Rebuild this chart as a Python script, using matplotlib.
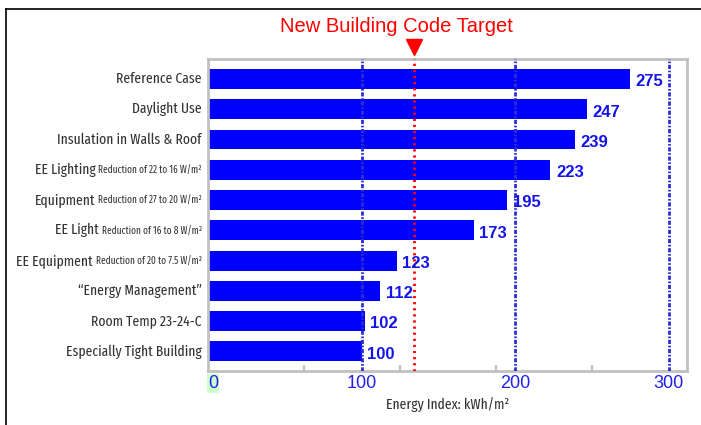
import numpy as np
import matplotlib
matplotlib.use("Agg")
import matplotlib.pyplot as plt
from matplotlib import font_manager as fm
from matplotlib.lines import Line2D
from matplotlib.offsetbox import TextArea, HPacker, AnnotationBbox

# datos
main_labels = ["Reference Case", "Daylight Use", "Insulation in Walls & Roof",
               "EE Lighting", "Equipment", "EE Light", "EE Equipment",
               "\u201cEnergy Management\u201d", "Room Temp 23-24-C",
               "Especially Tight Building"]
sub_labels = ["", "", "",
              "Reduction of 22 to 16 W/m\u00b2", "Reduction of 27 to 20 W/m\u00b2",
              "Reduction of 16 to 8 W/m\u00b2", "Reduction of 20 to 7.5 W/m\u00b2",
              "", "", ""]
values = [275, 247, 239, 223, 195, 173, 123, 112, 102, 100]
target = 134
grid_vals = [100, 200, 300]
tick_vals = [0, 100, 200, 300]
tick_labels = ["0", "100", "200", "300"]
minor_vals = [62.5, 125, 187.5, 250]

# fuente estrecha disponible
installed = {f.name for f in fm.fontManager.ttflist}
narrow_fam = next(f for f in ["Fira Sans Extra Condensed", "Roboto Condensed",
                              "Fira Sans Condensed", "Liberation Sans"] if f in installed)
NARROW = [narrow_fam, "DejaVu Sans"]
ARIAL = ["Liberation Sans", "DejaVu Sans"]
GRAY_TXT = "#333333"

fig = plt.figure(figsize=(7.01, 4.25), dpi=100)
renderer = fig.canvas.get_renderer()

# ajustar tamaño para que "Reference Case" mida ~85 px
t = fig.text(0, 0, "Reference Case", fontsize=10, family=NARROW)
scale = 85 / t.get_window_extent(renderer).width
t.remove()
big_fs = 10 * scale
small_fs = 0.68 * big_fs

ax = fig.add_axes([208 / 701, 1 - 371 / 425, (687 - 208) / 701, (371 - 59) / 425])

pos = np.arange(len(values))
ax.barh(pos, values, height=0.66, color="#0000ff", zorder=2)
ax.set_xlim(0, 312)
ax.set_ylim(9.65, -0.66)

# lineas de referencia
for g in grid_vals:
    ax.axvline(g, color="#2e2ed2", lw=2, ls=(0, (1.5, 0.6, 0.6, 0.6)), zorder=3)
ax.axvline(target, color="#ff0000", lw=2, ls=(0, (0.8, 1.4)), zorder=4)
ax.plot([target], [1.04], marker="v", ms=12, color="#ff0000",
        transform=ax.get_xaxis_transform(), clip_on=False)

# valores
for y, v in zip(pos, values):
    ax.annotate(str(v), xy=(v, y), xytext=(4, -2), textcoords="offset points",
                ha="left", va="center", fontsize=12, fontweight="bold",
                color="#1515e8", family=ARIAL, zorder=5)

# etiquetas del eje y
ax.set_yticks([])
for y, big, small in zip(pos, main_labels, sub_labels):
    kids = [TextArea(big, textprops=dict(fontsize=big_fs, color=GRAY_TXT, family=NARROW))]
    if small:
        kids.append(TextArea(small, textprops=dict(fontsize=small_fs, color=GRAY_TXT, family=NARROW)))
    box = HPacker(children=kids, align="baseline", pad=0, sep=2)
    ab = AnnotationBbox(box, xy=(0, y), xycoords=ax.get_yaxis_transform(),
                        xybox=(-4.5, 0), boxcoords="offset points",
                        box_alignment=(1, 0.5), frameon=False, annotation_clip=False)
    ax.add_artist(ab)

# eje x
ax.set_xticks(tick_vals)
ax.set_xticklabels(tick_labels, fontsize=13, color="#2020f0", family=ARIAL)
ax.get_xticklabels()[0].set_ha("left")
ax.get_xticklabels()[0].set_bbox(dict(facecolor="#ccffcc", edgecolor="none", pad=0.5))
ax.tick_params(axis="x", which="major", length=0, pad=3)
ax.set_xticks(minor_vals, minor=True)
ax.tick_params(axis="x", which="minor", direction="in", length=4, width=1.5, color="#c0c0c0")
ax.set_xlabel("Energy Index: kWh/m\u00b2", fontsize=big_fs, color=GRAY_TXT, family=NARROW, labelpad=4)

for s in ax.spines.values():
    s.set_color("#c0c0c0")
    s.set_linewidth(2)

fig.text(396 / 701, 1 - 32 / 425, "New Building Code Target", ha="center", va="baseline",
         color="#ff0000", fontsize=14.5, family=ARIAL)

# marco
fig.add_artist(Line2D([6 / 701, 6 / 701], [0, 1 - 9 / 425], color="black", lw=1.2))
fig.add_artist(Line2D([6 / 701, 1], [1 - 9 / 425, 1 - 9 / 425], color="black", lw=1.2))

fig.savefig("out.png", dpi=100)
